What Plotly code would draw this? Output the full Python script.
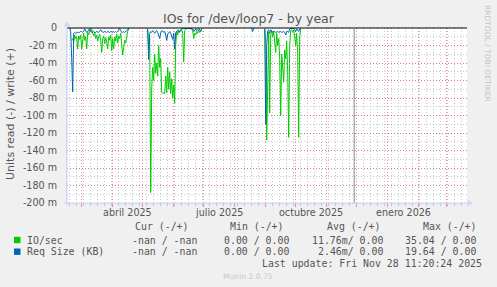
import plotly.graph_objects as go
import pandas as pd

# ---------------- data (milli-units; read direction plotted negative) ----------------
io_seg1_start = "2025-02-19"
io_seg1 = [-14, -12, -16, -8, -12, -10, -24, -9, -13, -8, -24, -12, -6, -14, -10, -24,
           -5, -8, -2, -4, -1, -6, -9, -5, -12, -8, -15, -10, -7, -14, -28, -12, -9, -18,
           -11, -16, -24, -10, -14, -8, -26, -12, -24, -10, -15, -7, -17, -9, -12, -6,
           -20, -31, -22, -14, -17, -9, -4, -1]
req_seg1_start = "2025-02-17"
req_seg1 = [0, -4, -35, -73, -6, -5, -6, -5, -5, -5, -5, -4, -4, -5, -4, -1, -3, -5, -4, -2,
            -0.5, -3, -5, -5, -4, -5, -5, -4, -5, -5, -4, -2, -4, -5, -5, -4, -5, -5, -4, -5,
            -5, -4, -5, -5, -4, -5, -4, -5, -4, -2, -0.5, -3, -5, -5, -4, -5, -4, -4, -2, 0]

io_seg2_start = "2025-05-06"
io_seg2 = [-2, -25, -12, -188, -70, -45, -60, -30, -52, -40, -55, -20, -45, -35, -74, -75,
           -74, -75, -55, -74, -45, -70, -50, -75, -58, -80, -65, -86, -20, -4, -8, -2, -5,
           -3, -1, -6, -39, -3, -1, -0.5, -0.3, -0.3, -0.3, -0.5, -1, -3, -12, -6, -8, -4,
           -6, -2, -5, -3, -1]
req_seg2_start = "2025-05-06"
req_seg2 = [-1, -36, -6, -4, -5, -3, -4, -6, -4, -3, -5, -8, -12, -5, -4, -3, -5, -4, -8,
            -14, -7, -5, -4, -6, -10, -13, -6, -24, -5, -4, -3, -5, -4, -3, -1, 0,
            -0.5, -0.3, -0.3, -0.3, -0.3, -0.3, -0.3, -0.3, -0.5,
            -1, -4, -2, -1, -3, -1, -0.5, -2, -4, -1]

req_seg3_start = "2025-08-18"
req_seg3 = [-0.3, -4, -0.3]

io_seg4_start = "2025-08-31"
io_seg4 = [-1, -15, -128, -40, -5, -97, -8, -3, -10, -4, -15, -28, -6, -20, -12, -35, -100,
           -30, -45, -62, -25, -35, -15, -50, -125, -20, -3, -2, -5, -2, -10, -20, -6, -30,
           -125, -10, -1]
req_seg4_start = "2025-08-31"
req_seg4 = [-1, -110, -20, -3, -2, -6, -2, -4, -5, -4, -4, -5, -4, -4, -5, -4, -4, -5, -4,
            -4, -5, -8, -4, -4, -5, -1, -0.5, -0.3, -0.3, -0.5, -2, -4, -1, -3, -4, -1, 0]

y_ticks = [0, -20, -40, -60, -80, -100, -120, -140, -160, -180, -200]
y_ticktext = ["0"] + [f"{v} m" for v in y_ticks[1:]]

quarter_labels = ["abril 2025", "julio 2025", "octubre 2025", "enero 2026"]
quarter_label_dates = ["2025-04-16", "2025-07-16", "2025-10-16", "2026-01-16 12:00"]

legend_names = ["IO/sec", "Req Size (KB)"]
legend_colors = ["#00CC00", "#0066B3"]
legend_cur = ["-nan / -nan", "-nan / -nan"]
legend_min = ["0.00 / 0.00", "0.00 / 0.00"]
legend_avg = ["11.76m/ 0.00", "2.46m/ 0.00"]
legend_max = ["35.04 / 0.00", "19.64 / 0.00"]
last_update = "Last update: Fri Nov 28 11:20:24 2025"
now_time = "2025-11-28 11:20:24"

x_range = ["2025-02-14 07:12", "2026-03-21 07:12"]

# ---------------- geometry helpers ----------------
W, H = 497, 287
PL, PR, PT, PB = 67, 467, 28, 203


def px(x):
    return (x - PL) / (PR - PL)


def py(y):
    return (PB - y) / (PB - PT)


def build(segments):
    xs, ys = [], []
    for start, vals in segments:
        d = pd.date_range(start, periods=len(vals), freq="D")
        xs += list(d)
        ys += list(vals)
        xs.append(d[-1] + pd.Timedelta(hours=12))
        ys.append(None)
    return xs, ys


io_x, io_y = build([(io_seg1_start, io_seg1), (io_seg2_start, io_seg2), (io_seg4_start, io_seg4)])
rq_x, rq_y = build([(req_seg1_start, req_seg1), (req_seg2_start, req_seg2),
                    (req_seg3_start, req_seg3), (req_seg4_start, req_seg4)])

fig = go.Figure()
fig.add_trace(go.Scatter(x=io_x, y=io_y, mode="lines", connectgaps=False,
                         line=dict(color=legend_colors[0], width=1), name=legend_names[0]))
fig.add_trace(go.Scatter(x=rq_x, y=rq_y, mode="lines", connectgaps=False,
                         line=dict(color=legend_colors[1], width=1), name=legend_names[1]))

MAJ = "rgba(222,79,79,0.6)"
MIN = "rgba(143,143,143,0.5)"
AX = "#CFD6F8"
FONT = "#555555"
SANS = "DejaVu Sans"
MONO = "DejaVu Sans Mono"

fig.update_layout(
    width=W, height=H,
    margin=dict(l=PL, r=W - PR, t=PT, b=H - PB, pad=0),
    paper_bgcolor="#F0F0F0", plot_bgcolor="#FFFFFF",
    showlegend=False,
    xaxis=dict(type="date", range=x_range, tickmode="linear", tick0="2025-03-01", dtick="M1",
               showgrid=True, gridcolor=MAJ, griddash="1px,2px", gridwidth=1,
               ticks="outside", ticklen=3, tickcolor=MAJ, tickwidth=1,
               showticklabels=False, showline=True, linecolor=AX, linewidth=1,
               zeroline=False, fixedrange=True,
               minor=dict(tick0="2025-02-17", dtick=7 * 86400000, showgrid=True,
                          gridcolor=MIN, griddash="1px,2px", ticks="outside", ticklen=2,
                          tickcolor=MIN)),
    yaxis=dict(range=[-200, 0], tickmode="array", tickvals=y_ticks, ticktext=y_ticktext,
               showgrid=True, gridcolor=MAJ, griddash="1px,2px", gridwidth=1,
               ticks="", ticklabelstandoff=7,
               tickfont=dict(family=SANS, size=9.6, color=FONT),
               showline=True, linecolor=AX, linewidth=1, zeroline=False, fixedrange=True,
               minor=dict(dtick=10, showgrid=True, gridcolor=MIN, griddash="1px,2px")),
)

shapes = []
# black zero line on top
shapes.append(dict(type="line", xref="paper", yref="paper", x0=0, x1=1, y0=1, y1=1,
                   line=dict(color="#000000", width=1), layer="above"))
# "now" rule
shapes.append(dict(type="line", xref="x", yref="paper", x0=now_time, x1=now_time, y0=0, y1=1,
                   line=dict(color="#888888", width=1), layer="above"))
# axis arrows / extensions
shapes.append(dict(type="line", xref="paper", yref="paper", x0=px(67), x1=px(67),
                   y0=py(206), y1=py(26), line=dict(color=AX, width=1)))
shapes.append(dict(type="path", xref="paper", yref="paper",
                   path=f"M {px(67)} {py(21)} L {px(63.8)} {py(26.5)} L {px(70.2)} {py(26.5)} Z",
                   fillcolor=AX, line=dict(color=AX, width=0)))
shapes.append(dict(type="line", xref="paper", yref="paper", x0=px(64), x1=px(468),
                   y0=py(203), y1=py(203), line=dict(color=AX, width=1)))
shapes.append(dict(type="path", xref="paper", yref="paper",
                   path=f"M {px(473)} {py(203)} L {px(467.5)} {py(199.8)} L {px(467.5)} {py(206.2)} Z",
                   fillcolor=AX, line=dict(color=AX, width=0)))
# legend swatches
for i, c in enumerate(legend_colors):
    yc = 240 + i * 11.7
    shapes.append(dict(type="rect", xref="paper", yref="paper",
                       x0=px(14), x1=px(20.5), y0=py(yc - 3.2), y1=py(yc + 3.2),
                       fillcolor=c, line=dict(width=0)))

anns = []


def ann(text, x, y, size, color=FONT, family=SANS, xanchor="left", angle=0, xref="paper"):
    anns.append(dict(text=text, x=(px(x) if xref == "paper" else x), y=py(y),
                     xref=xref, yref="paper", showarrow=False, xanchor=xanchor,
                     yanchor="middle", textangle=angle, borderpad=0, borderwidth=0,
                     font=dict(family=family, size=size, color=color)))


ann("IOs for /dev/loop7 - by year", 248.5, 18.5, 12.5, color="#555555", xanchor="center")
ann("Units read (-) / write (+)", 10.5, 114.5, 11, xanchor="center", angle=-90)
ann("RRDTOOL / TOBI OETIKER", 488, 53, 7.5, color="#C4C4C4", xanchor="center", angle=90)
ann("Munin 2.0.75", 247.7, 276.5, 7.6, color="#C8C8C8", xanchor="center")

for lab, d in zip(quarter_labels, quarter_label_dates):
    ann(lab, d, 212.7, 9.6, xanchor="center", xref="x")

ms = 9.9
ann("Cur (-/+)", 135, 226.7, ms, family=MONO)
ann("Min (-/+)", 229.7, 226.7, ms, family=MONO)
ann("Avg (-/+)", 326.7, 226.7, ms, family=MONO)
ann("Max (-/+)", 422.7, 226.7, ms, family=MONO)
avg_x = [311.7, 317.7]
for i in range(2):
    yy = 240 + i * 11.7
    ann(legend_names[i], 27, yy, ms, family=MONO)
    ann(legend_cur[i], 131.7, yy, ms, family=MONO)
    ann(legend_min[i], 224.4, yy, ms, family=MONO)
    ann(legend_avg[i], avg_x[i], yy, ms, family=MONO)
    ann(legend_max[i], 405, yy, ms, family=MONO)
ann(last_update, 482.3, 263.3, ms, family=MONO, xanchor="right")

fig.update_layout(shapes=shapes, annotations=anns)
fig.write_html("out.html")
